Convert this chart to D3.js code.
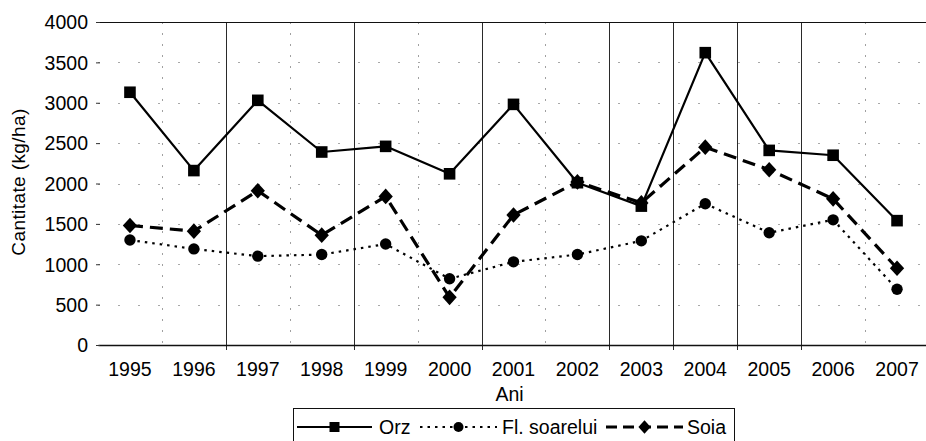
<!DOCTYPE html>
<html>
<head>
<meta charset="utf-8">
<script src="https://cdn.jsdelivr.net/npm/d3@7/dist/d3.min.js"></script>
<style>
  html, body { margin: 0; padding: 0; background: #fff; }
  svg { display: block; }
  text { font-family: "Liberation Sans", Arial, sans-serif; fill: #000; }
</style>
</head>
<body>
<svg id="chart" width="926" height="441"></svg>
<script>
// Yields per year (kg/ha)
const years = ["1995","1996","1997","1998","1999","2000","2001","2002","2003","2004","2005","2006","2007"];
const orz = [3130, 2160, 3030, 2390, 2460, 2120, 2980, 2010, 1720, 3620, 2410, 2350, 1540];
const floareaSoarelui = [1300, 1190, 1100, 1120, 1250, 820, 1030, 1120, 1290, 1750, 1390, 1550, 690];
const soia = [1480, 1410, 1910, 1360, 1840, 590, 1610, 2020, 1760, 2450, 2170, 1810, 950];
const yTicks = [0, 500, 1000, 1500, 2000, 2500, 3000, 3500, 4000];
const seriesNames = ["Orz", "Fl. soarelui", "Soia"];

const svg = d3.select("#chart");
const plot = { left: 98, right: 929, top: 22, bottom: 345 };
const fontSize = "19.5px";

const x = d3.scaleBand().domain(years).range([plot.left, plot.right]).padding(0);
const y = d3.scaleLinear().domain([0, 4000]).range([plot.bottom, plot.top]);

// Category boundaries: some drawn as solid rules, the rest as faint dotted ones
const solidBoundaries = new Set([2, 4, 6, 8, 9, 10, 11]);
const boundaries = d3.range(1, years.length).map(i => ({ i, x: plot.left + i * x.bandwidth() }));

const grid = svg.append("g");
grid.selectAll("line.hgrid")
  .data(yTicks.filter(v => v > 0 && v < 4000))
  .join("line")
  .attr("class", "hgrid")
  .attr("x1", plot.left).attr("x2", plot.right)
  .attr("y1", d => Math.round(y(d)) + 0.5).attr("y2", d => Math.round(y(d)) + 0.5)
  .attr("stroke", "#a8a8a8").attr("stroke-width", 1)
  .attr("stroke-dasharray", "2,18");

grid.selectAll("line.vgrid")
  .data(boundaries)
  .join("line")
  .attr("class", "vgrid")
  .attr("x1", d => Math.round(d.x) + 0.5).attr("x2", d => Math.round(d.x) + 0.5)
  .attr("y1", plot.top).attr("y2", plot.bottom + 5)
  .attr("stroke", d => solidBoundaries.has(d.i) ? "#2a2a2a" : "#a0a0a0")
  .attr("stroke-width", 1)
  .attr("stroke-dasharray", d => solidBoundaries.has(d.i) ? null : "2,9");

// Top border and category axis
svg.append("line")
  .attr("x1", plot.left).attr("x2", plot.right)
  .attr("y1", plot.top + 0.5).attr("y2", plot.top + 0.5)
  .attr("stroke", "#111").attr("stroke-width", 1.2);

const xAxis = d3.axisBottom(x).tickSize(0).tickPadding(19);
const gx = svg.append("g").attr("transform", `translate(0,${plot.bottom})`).call(xAxis);
gx.select(".domain").attr("stroke", "#111").attr("stroke-width", 1.3);
gx.selectAll("text")
  .style("font-size", fontSize)
  .style("font-family", "'Liberation Sans', Arial, sans-serif")
  .attr("dy", "0.71em").attr("y", 17.5);

// Value axis: labels and short tick marks, no axis rule
const yAxis = d3.axisLeft(y).tickValues(yTicks).tickSize(4).tickPadding(8).tickFormat(d3.format("d"));
const gy = svg.append("g").attr("transform", `translate(${plot.left + 2},0)`).call(yAxis);
gy.select(".domain").remove();
gy.selectAll(".tick line").attr("stroke", "#333");
gy.selectAll("text")
  .style("font-size", fontSize)
  .style("font-family", "'Liberation Sans', Arial, sans-serif")
  .attr("dy", "0.35em");

// Axis titles
svg.append("text")
  .attr("x", (plot.left + plot.right) / 2 - 4).attr("y", 401)
  .attr("text-anchor", "middle")
  .style("font-size", fontSize)
  .text("Ani");

svg.append("text")
  .attr("transform", "translate(25,182) rotate(-90)")
  .attr("text-anchor", "middle")
  .style("font-size", "19px")
  .style("letter-spacing", "0.4px")
  .text("Cantitate (kg/ha)");

// Series
const series = [
  { name: seriesNames[0], values: orz, dash: null, width: 2.2, marker: "square" },
  { name: seriesNames[1], values: floareaSoarelui, dash: "2.5,5", width: 2.2, marker: "circle" },
  { name: seriesNames[2], values: soia, dash: "13,7", width: 3.2, marker: "diamond" }
];

const cx = yr => x(yr) + x.bandwidth() / 2;
const line = d3.line().x((d, i) => cx(years[i])).y(d => y(d));

function markerPath(kind, s) {
  if (kind === "square") return `M${-s},${-s}H${s}V${s}H${-s}Z`;
  if (kind === "diamond") return `M0,${-s * 1.15}L${s * 1.05},0L0,${s * 1.15}L${-s * 1.05},0Z`;
  return d3.arc()({ innerRadius: 0, outerRadius: s, startAngle: 0, endAngle: 2 * Math.PI });
}
const markerSize = { square: 5.8, circle: 5.7, diamond: 6.8 };

// draw lines bottom-up so Orz sits on top
[series[1], series[2], series[0]].forEach(s => {
  svg.append("path")
    .datum(s.values)
    .attr("d", line)
    .attr("fill", "none")
    .attr("stroke", "#000")
    .attr("stroke-width", s.width)
    .attr("stroke-dasharray", s.dash)
    .attr("stroke-linejoin", "round");
  svg.append("g").selectAll("path")
    .data(s.values)
    .join("path")
    .attr("transform", (d, i) => `translate(${cx(years[i])},${y(d)})`)
    .attr("d", markerPath(s.marker, markerSize[s.marker]))
    .attr("fill", "#000");
});

// Legend
const legend = svg.append("g");
legend.append("rect")
  .attr("x", 293.5).attr("y", 408.5)
  .attr("width", 441).attr("height", 50)
  .attr("fill", "#fff").attr("stroke", "#111").attr("stroke-width", 1);

const legendItems = [
  { s: series[0], x0: 297, x1: 372, tx: 379 },
  { s: series[1], x0: 420, x1: 497, tx: 502 },
  { s: series[2], x0: 606, x1: 683, tx: 687 }
];
const ly = 427;
legendItems.forEach(it => {
  legend.append("line")
    .attr("x1", it.x0).attr("x2", it.x1)
    .attr("y1", ly).attr("y2", ly)
    .attr("stroke", "#000")
    .attr("stroke-width", it.s.width)
    .attr("stroke-dasharray", it.s.marker === "circle" ? "2.5,5" : it.s.marker === "diamond" ? "11,6" : null);
  legend.append("path")
    .attr("transform", `translate(${(it.x0 + it.x1) / 2},${ly})`)
    .attr("d", markerPath(it.s.marker, it.s.marker === "diamond" ? 5.8 : 5))
    .attr("fill", "#000");
  legend.append("text")
    .attr("x", it.tx).attr("y", 433.5)
    .style("font-size", fontSize)
    .text(it.s.name);
});
</script>
</body>
</html>
